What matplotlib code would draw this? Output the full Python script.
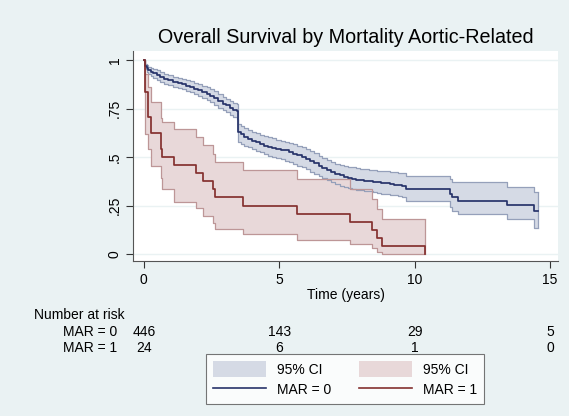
import matplotlib
matplotlib.use("Agg")
import matplotlib.pyplot as plt
from matplotlib.patches import Patch
from matplotlib.lines import Line2D
from matplotlib.transforms import blended_transform_factory

plt.rcParams['font.family'] = ['Liberation Sans', 'DejaVu Sans']

# ---- data ----
title = "Overall Survival by Mortality Aortic-Related"

# MAR = 0 : Kaplan-Meier step estimate and 95% CI
t0 = [0, .03, .06, .1, .17, .25, .35, .47, .6, .75, .9, 1.09, 1.25, 1.4, 1.55, 1.7,
      1.85, 2.0, 2.15, 2.32, 2.45, 2.6, 2.75, 2.94, 3.05, 3.2, 3.3, 3.43, 3.47, 3.58,
      3.7, 3.85, 3.99, 4.15, 4.3, 4.45, 4.6, 4.75, 4.9, 5.05, 5.22, 5.35, 5.5, 5.65,
      5.84, 6.0, 6.15, 6.3, 6.46, 6.6, 6.75, 6.9, 7.07, 7.25, 7.4, 7.55, 7.69, 7.85,
      8.0, 8.15, 8.31, 8.45, 8.6, 8.75, 8.93, 9.1, 9.25, 9.4, 9.54, 9.67, 11.31, 11.4,
      11.6, 13.43, 14.4, 14.57]
s0 = [1, .985, .97, .957, .948, .94, .931, .922, .913, .905, .897, .888, .881, .875, .868, .862,
      .853, .845, .836, .827, .816, .805, .79, .776, .766, .755, .745, .735, .629, .617,
      .605, .595, .585, .576, .568, .559, .551, .546, .542, .538, .534, .526, .518, .509,
      .499, .489, .478, .467, .456, .446, .435, .424, .413, .405, .398, .392, .387, .384,
      .381, .378, .375, .372, .37, .367, .364, .361, .358, .355, .352, .335, .309, .292,
      .275, .252, .223, .223]
lo0 = [1, .975, .955, .94, .93, .92, .908, .896, .887, .878, .87, .862, .856, .85, .843, .836,
       .825, .815, .804, .793, .782, .77, .755, .741, .73, .718, .706, .695, .577, .567,
       .558, .55, .542, .533, .525, .516, .508, .501, .495, .488, .482, .473, .465, .456,
       .447, .436, .425, .414, .404, .393, .383, .372, .361, .352, .345, .34, .335, .331,
       .328, .325, .323, .319, .316, .312, .309, .305, .302, .298, .295, .275, .24, .223,
       .206, .18, .136, .136]
hi0 = [1, .99, .982, .975, .967, .96, .954, .948, .939, .93, .922, .914, .908, .902, .896, .891,
       .883, .876, .869, .862, .851, .84, .825, .81, .8, .79, .781, .772, .672, .661,
       .65, .64, .629, .622, .615, .609, .603, .596, .59, .583, .577, .571, .565, .558,
       .551, .54, .53, .519, .508, .497, .487, .476, .465, .458, .452, .449, .447, .443,
       .44, .437, .434, .432, .43, .428, .427, .424, .421, .418, .416, .404, .387, .369,
       .369, .344, .318, .318]

# MAR = 1
t1 = [0, 0.05, 0.14, 0.26, 0.63, 0.69, 1.12, 1.93, 2.17, 2.57, 2.63, 3.68, 5.65,
      7.63, 8.43, 8.62, 8.8, 10.4]
s1 = [1, .833, .708, .625, .542, .5, .458, .417, .375, .333, .292, .25, .208,
      .167, .125, .083, .042, .042]
lo1 = [1, .62, .54, .456, .39, .335, .27, .235, .197, .162, .128, .102, .07,
       .05, .03, .01, .0, .0]
hi1 = [1, .93, .86, .784, .70, .68, .646, .603, .56, .517, .473, .434, .387,
       .335, .283, .23, .18, .18]
t1_end = 10.4
s1_end = 0.0

risk_times = [0, 5, 10, 15]
risk_labels = ["MAR = 0", "MAR = 1"]
risk0 = [446, 143, 29, 5]
risk1 = [24, 6, 1, 0]

yticks = [0, 0.25, 0.5, 0.75, 1]
yticklabels = ["0", ".25", ".5", ".75", "1"]
xticks = [0, 5, 10, 15]

# ---- style ----
bg = "#eaf2f3"
blue_line = "#27336a"
blue_fill = "#d5dae5"
blue_edge = "#95a0ba"
red_line = "#84302f"
red_fill = "#e8d8d9"
red_edge = "#bd9697"

fig = plt.figure(figsize=(5.69, 4.16), dpi=100, facecolor=bg)
ax = fig.add_axes([0.2337, 0.3726, 0.9807 - 0.2337, 0.8774 - 0.3726])
ax.set_facecolor("white")

# CI bands
ax.fill_between(t0, lo0, hi0, step="post", facecolor=blue_fill, edgecolor="none", zorder=2)
ax.step(t0, lo0, where="post", color=blue_edge, lw=0.9, zorder=3)
ax.step(t0, hi0, where="post", color=blue_edge, lw=0.9, zorder=3)
ax.vlines(t0[-1], lo0[-1], hi0[-1], color=blue_edge, lw=0.9, zorder=3)

ax.fill_between(t1, lo1, hi1, step="post", facecolor=red_fill, edgecolor="none", zorder=2)
ax.step(t1, lo1, where="post", color=red_edge, lw=0.9, zorder=3)
ax.step(t1, hi1, where="post", color=red_edge, lw=0.9, zorder=3)
ax.vlines(t1[-1], lo1[-1], hi1[-1], color=red_edge, lw=0.9, zorder=3)

# survival lines
ax.step(t0, s0, where="post", color=blue_line, lw=1.25, zorder=4)
ax.step(t1 + [t1_end], s1 + [s1_end], where="post", color=red_line, lw=1.25, zorder=4)

ax.set_xlim(-0.4, 15.3)
ax.set_ylim(-0.036, 1.047)
ax.set_yticks(yticks)
ax.set_yticklabels(yticklabels, rotation=90, va="center")
ax.set_xticks(xticks)
ax.tick_params(axis="both", direction="out", length=5, width=0.8, colors="#333333",
               labelcolor="black", labelsize=10)
ax.tick_params(axis="y", pad=3)
ax.grid(axis="y", color=bg, lw=1.0, zorder=1)
ax.set_axisbelow(True)
for side in ["top", "right"]:
    ax.spines[side].set_visible(False)
for side in ["left", "bottom"]:
    ax.spines[side].set_color("#555555")
    ax.spines[side].set_linewidth(0.8)

ax.set_xlabel("Time (years)", fontsize=10, labelpad=1)
fig.text(0.607, 0.909, title, ha="center", va="center", fontsize=14.2)

# number at risk table
tr = blended_transform_factory(ax.transData, fig.transFigure)
fig.text(34 / 569, 1 - 315 / 416, "Number at risk", ha="left", va="center", fontsize=10)
for lab, vals, ypix in [(risk_labels[0], risk0, 332), (risk_labels[1], risk1, 348)]:
    fig.text(117 / 569, 1 - ypix / 416, lab, ha="right", va="center", fontsize=10)
    for tt, v in zip(risk_times, vals):
        ax.text(tt, 1 - ypix / 416, str(v), transform=tr, ha="center", va="center",
                fontsize=10, clip_on=False)

handles = [Patch(facecolor=blue_fill, edgecolor="none"),
           Line2D([], [], color=blue_line, lw=1.2),
           Patch(facecolor=red_fill, edgecolor="none"),
           Line2D([], [], color=red_line, lw=1.2)]
labels = ["95% CI", "MAR = 0", "95% CI", "MAR = 1"]
leg = fig.legend(handles, labels, ncol=2, loc="center", bbox_to_anchor=(0.607, 0.088),
                 fontsize=10, frameon=True, fancybox=False, handlelength=3.8,
                 handleheight=1.4, handletextpad=0.8, columnspacing=2.0,
                 borderpad=0.5, labelspacing=0.3)
leg.get_frame().set_edgecolor("#555555")
leg.get_frame().set_linewidth(0.8)
leg.get_frame().set_facecolor("white")

fig.savefig("out.png", dpi=100, facecolor=bg)
